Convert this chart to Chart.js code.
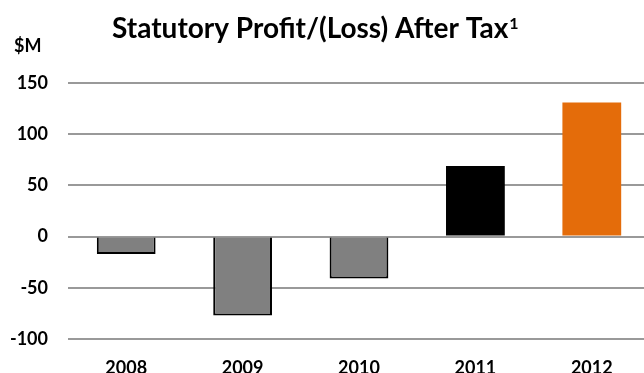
<!DOCTYPE html>
<html>
<head>
<meta charset="utf-8">
<script src="https://cdn.jsdelivr.net/npm/chart.js@4"></script>
<style>
  html, body { margin: 0; padding: 0; background: #fff; overflow: hidden; }
  #wrap { width: 650px; height: 373px; position: relative; }
</style>
</head>
<body>
<div id="wrap"><canvas id="c" width="650" height="373"></canvas></div>
<script>
const categories = ['2008', '2009', '2010', '2011', '2012'];
const profitValues = [-17, -77, -41, 69, 131];
const barColors = ['#808080', '#808080', '#808080', '#000000', '#E46C0A'];
const barBorderWidths = [2, 2, 2, 0, 0];
const yTicks = [-100, -50, 0, 50, 100, 150];
const titleText = 'Statutory Profit/(Loss) After Tax';
const titleSup = '1';
const unitLabel = '$M';

const FONT = 'Lato, "Open Sans", sans-serif';

const textPlugin = {
  id: 'textPlugin',
  afterDraw(chart) {
    const ctx = chart.ctx;
    ctx.save();
    ctx.fillStyle = '#000';
    ctx.textBaseline = 'alphabetic';
    ctx.textAlign = 'left';
    ctx.font = 'bold 28px ' + FONT;
    ctx.fillText(titleText, 112, 38);
    const w = ctx.measureText(titleText).width;
    ctx.font = 'bold 16px ' + FONT;
    ctx.fillText(titleSup, 112 + w + 1, 29);
    ctx.font = 'bold 18px ' + FONT;
    ctx.fillText(unitLabel, 14, 52);
    ctx.restore();
  }
};

new Chart(document.getElementById('c'), {
  type: 'bar',
  data: {
    labels: categories,
    datasets: [{
      data: profitValues,
      backgroundColor: barColors,
      borderColor: '#000000',
      borderWidth: barBorderWidths,
      barPercentage: 0.505,
      categoryPercentage: 1.0
    }]
  },
  options: {
    responsive: false,
    animation: false,
    layout: { padding: { top: 83, left: 0, right: 0, bottom: 0 } },
    plugins: {
      legend: { display: false },
      title: { display: false },
      tooltip: { enabled: false }
    },
    scales: {
      x: {
        grid: { display: false },
        border: { display: false },
        ticks: {
          color: '#000',
          font: { family: FONT, size: 18, weight: 'bold' },
          padding: 10,
          maxRotation: 0
        },
        afterFit(scale) { scale.height = 34; }
      },
      y: {
        min: -100,
        max: 150,
        afterBuildTicks(scale) { scale.ticks = yTicks.map(v => ({ value: v })); },
        grid: { color: '#999999', lineWidth: 2, drawTicks: false },
        border: { display: false },
        ticks: {
          color: '#000',
          font: { family: FONT, size: 18, weight: 'bold' },
          padding: 20
        },
        afterFit(scale) { scale.width = 68; }
      }
    }
  },
  plugins: [textPlugin]
});
</script>
</body>
</html>
